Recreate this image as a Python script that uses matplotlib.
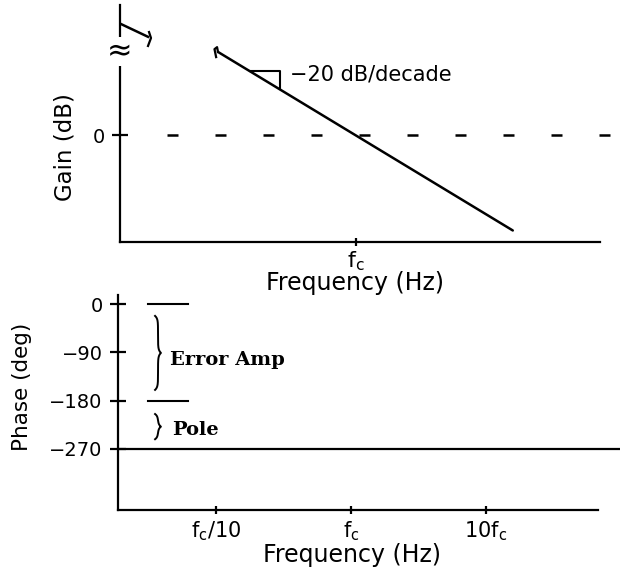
import numpy as np
import matplotlib
matplotlib.use("Agg")
import matplotlib.pyplot as plt

plt.rcParams['font.family'] = ['DejaVu Sans']

# ---- gain plot (frequency in units of fc, gain in dB) ----
gain_f = [0.095, 14.5]
gain_db = [20.9, -24.0]
low_f = [0.0182, 0.0288]          # short piece left of the axis break
low_db = [27.9, 24.7]
low_hook_f = [0.0293, 0.0303, 0.0288]
low_hook_db = [25.9, 24.4, 22.4]
start_hook_f = [0.095, 0.0935, 0.0895, 0.092]
start_hook_db = [20.9, 22.1, 21.6, 19.6]
zero_f = [0.0395, 78.8]
zero_db = [0, 0]
tri_f = [0.164, 0.2735]
break_db = 21.0
slope_text_f, slope_text_db = 0.324, 15.1

# ---- phase plot ----
phase_line = -270
phase_ticks = [0, -90, -180, -270]
marks_f = [0.0313, 0.062]
marks_deg = [0, -180]
brace_err = [-22, -160]
brace_pole = [-205, -252]
brace_f = 0.0372
err_text = (0.0456, -104)
pole_text = (0.0472, -235)
freq_ticks = [0.1, 1, 10]
freq_labels = [r'$\mathregular{f_c/10}$', r'$\mathregular{f_c}$', r'$\mathregular{10f_c}$']

LW = 1.6
fig = plt.figure(figsize=(6.22, 5.69), dpi=100)

# top axes
ax1 = fig.add_axes([120/622, 1-242/569, 480/622, 237/569])
ax1.set_xscale('log')
ax1.set_xlim(10**((120-356)/135), 10**((600-356)/135))
ax1.set_ylim(-26.9, 32.7)
for s in ['top', 'right']:
    ax1.spines[s].set_visible(False)
for s in ['left', 'bottom']:
    ax1.spines[s].set_linewidth(LW)
ax1.set_yticks([0])
ax1.set_yticklabels(['0'], fontsize=14)
ax1.set_xticks([1])
ax1.set_xticklabels([r'$\mathregular{f_c}$'], fontsize=16)
ax1.xaxis.set_minor_locator(plt.NullLocator())
ax1.tick_params(axis='y', direction='inout', length=12, width=LW, pad=5)
ax1.tick_params(axis='x', direction='inout', length=6, width=LW, pad=2)

ax1.plot(gain_f, gain_db, color='black', lw=1.8, solid_capstyle='round')
ax1.plot(start_hook_f, start_hook_db, color='black', lw=1.6)
ax1.plot(low_f, low_db, color='black', lw=1.8)
ax1.plot(low_hook_f, low_hook_db, color='black', lw=1.6)
ax1.plot(zero_f, zero_db, color='black', lw=1.8,
         linestyle=(0, (4.4, 14.8)), clip_on=False)

# slope triangle sitting on the gain line
lg = np.log10(gain_f)
slope = (gain_db[1] - gain_db[0]) / (lg[1] - lg[0])
tri_db = [gain_db[0] + slope*(np.log10(f) - lg[0]) for f in tri_f]
ax1.plot([tri_f[0], tri_f[1], tri_f[1]], [tri_db[0], tri_db[0], tri_db[1]],
         color='black', lw=1.5)
ax1.text(slope_text_f, slope_text_db, '−20 dB/decade', fontsize=15,
         ha='left', va='center')

# axis break symbol
ax1.text(0, break_db, '≈', transform=ax1.get_yaxis_transform(), fontsize=22,
         ha='center', va='center', clip_on=False,
         bbox=dict(facecolor='white', edgecolor='none', pad=0))

# bottom axes
ax2 = fig.add_axes([118/622, 1-510/569, 502/622, 215/569])
ax2.set_xscale('log')
x0, x1 = 10**((118-351)/135), 10**((620-351)/135)
ax2.set_xlim(x0, x1)
ax2.set_ylim(-384, 17)
for s in ['top', 'right']:
    ax2.spines[s].set_visible(False)
for s in ['left', 'bottom']:
    ax2.spines[s].set_linewidth(LW)
ax2.spines['bottom'].set_bounds(x0, 10**((598-351)/135))
ax2.set_yticks(phase_ticks)
ax2.set_yticklabels([str(t).replace('-', '−') for t in phase_ticks], fontsize=14)
ax2.set_xticks(freq_ticks)
ax2.set_xticklabels(freq_labels, fontsize=15)
ax2.xaxis.set_minor_locator(plt.NullLocator())
ax2.tick_params(axis='y', direction='inout', length=12, width=LW, pad=5)
ax2.tick_params(axis='x', direction='inout', length=6, width=LW, pad=4)

ax2.axhline(phase_line, color='black', lw=1.6)
for d in marks_deg:
    ax2.plot(marks_f, [d, d], color='black', lw=1.5)


def brace(ax, f, y0, y1, a=5.0, w=0.022):
    # vertical curly brace "}" : ends curl left, tip points right
    s = np.linspace(y0, y1, 400)
    ym = (y0 + y1) / 2
    xb = (-np.exp(-np.abs(s - y0)/a) - np.exp(-np.abs(s - y1)/a)
          + np.exp(-np.abs(s - ym)/a))
    ax.plot(10**(np.log10(f) + xb*w), s, color='black', lw=1.4)


brace(ax2, brace_f, brace_err[0], brace_err[1])
brace(ax2, brace_f, brace_pole[0], brace_pole[1], a=4.0)
ax2.text(err_text[0], err_text[1], 'Error Amp', family='DejaVu Serif',
         weight='bold', fontsize=14, ha='left', va='center')
ax2.text(pole_text[0], pole_text[1], 'Pole', family='DejaVu Serif',
         weight='bold', fontsize=14, ha='left', va='center')

# axis titles
fig.text(65/622, 1-147/569, 'Gain (dB)', rotation=90, fontsize=16.5,
         ha='center', va='center')
fig.text(355/622, 1-283/569, 'Frequency (Hz)', fontsize=17,
         ha='center', va='center')
fig.text(22/622, 1-387/569, 'Phase (deg)', rotation=90, fontsize=15.5,
         ha='center', va='center')
fig.text(352/622, 1-555/569, 'Frequency (Hz)', fontsize=17,
         ha='center', va='center')

fig.savefig('out.png', dpi=100)
